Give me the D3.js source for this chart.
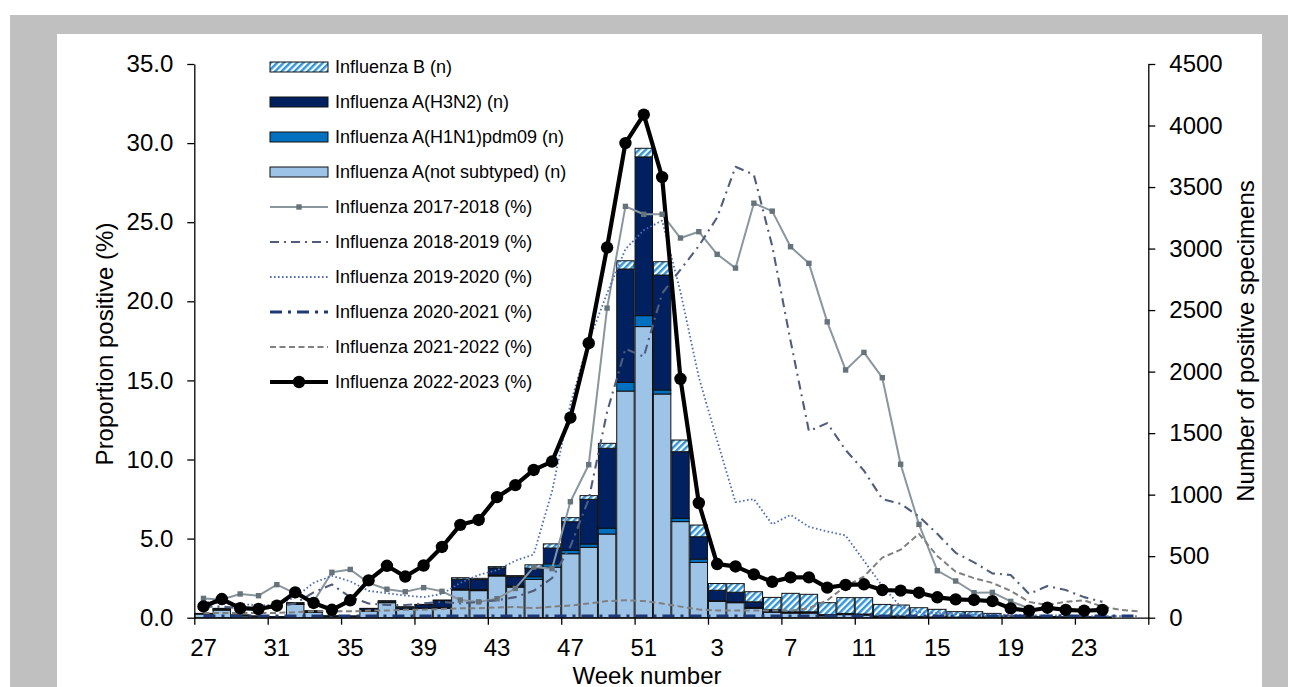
<!DOCTYPE html>
<html>
<head>
<meta charset="utf-8">
<script src="https://cdn.jsdelivr.net/npm/d3@7"></script>
<style>
  body { margin: 0; background: #fff; }
  svg { display: block; font-family: "Liberation Sans", Arial, sans-serif; }
</style>
</head>
<body>
<svg id="chart" width="1298" height="687"></svg>
<script>
// week numbers on the x axis (season week 27 -> week 26)
var weeks = [27,28,29,30,31,32,33,34,35,36,37,38,39,40,41,42,43,44,45,46,47,48,49,50,51,52,
             1,2,3,4,5,6,7,8,9,10,11,12,13,14,15,16,17,18,19,20,21,22,23,24,25,26];
var weekLabels = [27,31,35,39,43,47,51,3,7,11,15,19,23];

// positive specimens (n), right axis
var fluANS = [30,62,15,10,5,108,43,10,10,54,122,68,76,76,225,220,339,248,311,410,520,572,680,1842,2366,1818,
              781,449,133,122,76,45,38,38,15,25,22,8,8,4,3,3,3,2,2,2,1,1,1,1,0,0];
var fluAH1 = [0,2,1,0,0,2,1,0,0,2,2,3,3,8,8,8,8,10,22,28,28,27,47,71,89,33,
              27,27,5,5,8,3,2,2,2,2,1,1,1,0,0,0,0,0,0,0,0,0,0,0,0,0];
var fluAH3 = [3,10,5,3,2,10,10,4,3,17,11,15,26,55,80,82,58,75,69,128,232,363,650,921,1290,934,
              541,182,85,80,45,17,8,8,8,8,7,4,4,4,3,2,2,2,1,1,1,1,1,1,0,0];
var fluB   = [2,2,1,1,1,2,3,2,1,3,3,3,3,5,12,10,10,9,28,34,33,30,40,67,70,108,
              95,95,55,70,82,100,150,142,97,128,133,95,90,73,62,44,44,31,12,8,8,6,6,5,0,0];

// proportion positive (%), left axis
var flu2017 = [1.22,1.15,1.5,1.39,2.09,1.54,1.0,2.87,3.05,2.2,1.8,1.64,1.9,1.67,1.12,1.0,1.2,1.85,3.2,3.1,7.33,9.67,19.57,26.0,25.5,25.5,
               24.0,24.4,22.97,22.1,26.2,25.7,23.45,22.4,18.7,15.66,16.77,15.17,9.7,5.9,2.97,2.32,1.58,1.6,1.03,0.6,null,null,null,null,null,null];
var flu2018 = [0.7,0.7,0.6,0.6,0.7,0.9,1.6,2.1,1.3,0.9,0.8,0.8,0.9,1.0,0.9,1.0,1.1,1.3,1.7,2.5,4.5,7.5,13.0,17.0,16.5,20.5,
               22.0,23.5,25.3,28.5,28.0,23.5,17.5,11.8,12.3,10.6,9.3,7.5,7.2,6.4,5.3,4.1,3.5,2.8,2.7,1.5,2.0,1.75,1.3,1.0,null,null];
var flu2019 = [1.0,0.9,0.85,0.8,0.8,1.3,2.2,2.65,2.3,1.7,1.55,1.4,1.3,1.5,2.2,2.7,3.0,3.6,4.0,8.0,13.5,17.5,20.5,23.3,24.5,25.1,
               20.6,15.2,11.2,7.3,7.5,5.9,6.5,5.75,5.45,5.2,3.6,2.0,0.7,0.35,0.3,0.25,0.2,0.2,0.2,0.15,0.15,0.15,0.1,0.1,0.1,0.1];
var flu2020 = [0.1,0.1,0.1,0.1,0.1,0.1,0.1,0.1,0.1,0.1,0.1,0.1,0.1,0.1,0.1,0.1,0.1,0.1,0.1,0.1,0.1,0.1,0.1,0.1,0.1,0.1,
               0.1,0.1,0.1,0.1,0.1,0.1,0.1,0.1,0.1,0.1,0.1,0.1,0.1,0.1,0.1,0.1,0.1,0.1,0.1,0.1,0.1,0.1,0.1,0.1,0.1,0.1];
var flu2021 = [0.3,0.3,0.3,0.3,0.3,0.35,0.4,0.4,0.4,0.45,0.45,0.5,0.5,0.55,0.6,0.6,0.65,0.68,0.6,0.7,0.77,0.9,1.05,1.1,1.05,0.9,
               0.7,0.52,0.46,0.45,0.45,0.45,0.45,0.6,1.1,2.0,2.6,3.8,4.3,5.3,3.9,2.9,2.5,2.2,1.7,1.0,0.8,1.0,1.1,0.7,0.5,0.4];
var flu2022 = [0.71,1.18,0.6,0.55,0.76,1.6,0.93,0.5,1.1,2.36,3.28,2.6,3.3,4.47,5.87,6.18,7.62,8.38,9.34,9.87,12.65,17.35,23.4,30.0,31.8,27.85,
               15.1,7.25,3.39,3.24,2.74,2.27,2.55,2.55,1.9,2.07,2.11,1.75,1.71,1.58,1.29,1.16,1.12,1.05,0.59,0.44,0.63,0.49,0.44,0.49,null,null];

var barLabels = ["Influenza B (n)", "Influenza A(H3N2) (n)", "Influenza A(H1N1)pdm09 (n)", "Influenza A(not subtyped) (n)"];
var lineLabels = ["Influenza 2017-2018 (%)", "Influenza 2018-2019 (%)", "Influenza 2019-2020 (%)",
                  "Influenza 2020-2021 (%)", "Influenza 2021-2022 (%)", "Influenza 2022-2023 (%)"];

var svg = d3.select("#chart");

// grey frame + white panel
svg.append("rect").attr("x", 10).attr("y", 15).attr("width", 1278).attr("height", 672).attr("fill", "#c0c0c0");
svg.append("rect").attr("x", 57).attr("y", 34).attr("width", 1205).attr("height", 653).attr("fill", "#fff");

// hatch for influenza B
var defs = svg.append("defs");
var pat = defs.append("pattern")
  .attr("id", "hatch")
  .attr("patternUnits", "userSpaceOnUse")
  .attr("width", 4.6)
  .attr("height", 4.6)
  .attr("patternTransform", "rotate(45)");
pat.append("rect").attr("width", 4.6).attr("height", 4.6).attr("fill", "#fff");
pat.append("line").attr("x1", 1.2).attr("y1", 0).attr("x2", 1.2).attr("y2", 4.6)
  .attr("stroke", "#3296dc").attr("stroke-width", 2.5);

var plotL = 194.3, plotR = 1148.3, plotB = 617.7, plotT = 64;

var x = d3.scaleBand().domain(weeks.map(String)).range([plotL, plotR]).padding(0);
var xi = d3.scaleLinear().domain([0, weeks.length]).range([plotL, plotR]);
var yL = d3.scaleLinear().domain([0, 35]).range([plotB, plotT]);
var yR = d3.scaleLinear().domain([0, 4500]).range([plotB, plotT]);

// stacked bars
var table = weeks.map(function(w, i) {
  return { week: String(w), ns: fluANS[i], h1: fluAH1[i], h3: fluAH3[i], b: fluB[i] };
});
var keys = ["ns", "h1", "h3", "b"];
var fills = { ns: "#9dc3e6", h1: "#0070c0", h3: "#002060", b: "url(#hatch)" };
var series = d3.stack().keys(keys)(table);
var bw = x.bandwidth() * 0.95;

var gBars = svg.append("g");
series.forEach(function(s) {
  gBars.selectAll(null)
    .data(s.filter(function(d) { return d[1] - d[0] > 0; }))
    .enter()
    .append("rect")
    .attr("x", function(d) { return x(d.data.week) + (x.bandwidth() - bw) / 2; })
    .attr("y", function(d) { return yR(d[1]); })
    .attr("width", bw)
    .attr("height", function(d) { return yR(d[0]) - yR(d[1]); })
    .attr("fill", fills[s.key])
    .attr("stroke", "#111")
    .attr("stroke-width", 1);
});

// lines
function cx(i) { return x(String(weeks[i])) + x.bandwidth() / 2; }
var line = d3.line()
  .defined(function(d) { return d != null; })
  .x(function(d, i) { return cx(i); })
  .y(function(d) { return yL(d); });

var styles = [
  { data: flu2017, color: "#8a969d", width: 2, dash: null },
  { data: flu2018, color: "#515d7c", width: 2.1, dash: "9,5,2,5" },
  { data: flu2019, color: "#4d6db6", width: 1.8, dash: "1.6,2.4" },
  { data: flu2020, color: "#1f3a7a", width: 3, dash: "12,6,3,6" },
  { data: flu2021, color: "#808080", width: 2, dash: "6,3.5" },
  { data: flu2022, color: "#000", width: 4.2, dash: null }
];

var gLines = svg.append("g");
styles.forEach(function(st) {
  gLines.append("path")
    .datum(st.data)
    .attr("fill", "none")
    .attr("stroke", st.color)
    .attr("stroke-width", st.width)
    .attr("stroke-dasharray", st.dash)
    .attr("stroke-linejoin", "round")
    .attr("d", line);
});

// markers 2017-2018 (squares)
gLines.selectAll(null)
  .data(flu2017.map(function(v, i) { return { v: v, i: i }; }).filter(function(d) { return d.v != null; }))
  .enter()
  .append("rect")
  .attr("x", function(d) { return cx(d.i) - 2.7; })
  .attr("y", function(d) { return yL(d.v) - 2.7; })
  .attr("width", 5.4).attr("height", 5.4)
  .attr("fill", "#66737a");

// markers 2022-2023 (circles)
gLines.selectAll(null)
  .data(flu2022.map(function(v, i) { return { v: v, i: i }; }).filter(function(d) { return d.v != null; }))
  .enter()
  .append("circle")
  .attr("cx", function(d) { return cx(d.i); })
  .attr("cy", function(d) { return yL(d.v); })
  .attr("r", 6.2)
  .attr("fill", "#000");

// axes
function styleAxis(g) {
  g.selectAll("path, line").attr("stroke", "#000").attr("stroke-width", 1.3);
  g.selectAll("text").attr("fill", "#000").style("font-family", "'Liberation Sans', Arial, sans-serif");
}

svg.append("g")
  .attr("transform", "translate(" + plotL + ",0)")
  .call(d3.axisLeft(yL).tickValues(d3.range(0, 36, 5)).tickFormat(d3.format(".1f")).tickSize(7).tickSizeOuter(0).tickPadding(14))
  .call(styleAxis)
  .selectAll("text").attr("font-size", 24);

svg.append("g")
  .attr("transform", "translate(" + plotR + ",0)")
  .call(d3.axisRight(yR).tickValues(d3.range(0, 4501, 500)).tickFormat(d3.format("d")).tickSize(7).tickSizeOuter(0).tickPadding(14))
  .call(styleAxis)
  .selectAll("text").attr("font-size", 24);

var xTicks = d3.range(0, weeks.length + 1, 4);
svg.append("g")
  .attr("transform", "translate(0," + plotB + ")")
  .call(d3.axisBottom(xi).tickValues(xTicks).tickFormat("").tickSize(7).tickSizeOuter(0))
  .call(styleAxis);

svg.append("g")
  .attr("transform", "translate(0," + plotB + ")")
  .call(d3.axisBottom(x).tickValues(weekLabels.map(String)).tickSize(0).tickPadding(21))
  .call(function(g) { g.select(".domain").remove(); })
  .call(styleAxis)
  .selectAll("text").attr("font-size", 24);

// axis titles
svg.append("text")
  .attr("transform", "translate(113,344) rotate(-90)")
  .attr("text-anchor", "middle").attr("font-size", 24).attr("fill", "#000")
  .text("Proportion positive (%)");
svg.append("text")
  .attr("transform", "translate(1254,341) rotate(-90)")
  .attr("text-anchor", "middle").attr("font-size", 24).attr("fill", "#000")
  .text("Number of positive specimens");
svg.append("text")
  .attr("x", 647).attr("y", 684)
  .attr("text-anchor", "middle").attr("font-size", 24).attr("fill", "#000")
  .text("Week number");

// legend
var legX = 270, legW = 58, legY0 = 67, legDy = 35;
var gLeg = svg.append("g");
var barFills = ["url(#hatch)", "#002060", "#0070c0", "#9dc3e6"];
barLabels.forEach(function(lbl, i) {
  var yy = legY0 + i * legDy;
  gLeg.append("rect").attr("x", legX).attr("y", yy - 5).attr("width", legW).attr("height", 10)
    .attr("fill", barFills[i]).attr("stroke", "#111").attr("stroke-width", 1);
  gLeg.append("text").attr("x", legX + 65).attr("y", yy).attr("dy", "0.35em")
    .attr("font-size", 18).attr("fill", "#000").text(lbl);
});
lineLabels.forEach(function(lbl, i) {
  var yy = legY0 + (i + 4) * legDy;
  var st = styles[i];
  gLeg.append("line").attr("x1", legX).attr("x2", legX + legW).attr("y1", yy).attr("y2", yy)
    .attr("stroke", st.color).attr("stroke-width", st.width).attr("stroke-dasharray", st.dash);
  if (i === 0) {
    gLeg.append("rect").attr("x", legX + legW / 2 - 2.7).attr("y", yy - 2.7).attr("width", 5.4).attr("height", 5.4).attr("fill", "#66737a");
  }
  if (i === 5) {
    gLeg.append("circle").attr("cx", legX + legW / 2).attr("cy", yy).attr("r", 6.2).attr("fill", "#000");
  }
  gLeg.append("text").attr("x", legX + 65).attr("y", yy).attr("dy", "0.35em")
    .attr("font-size", 18).attr("fill", "#000").text(lbl);
});
</script>
</body>
</html>
